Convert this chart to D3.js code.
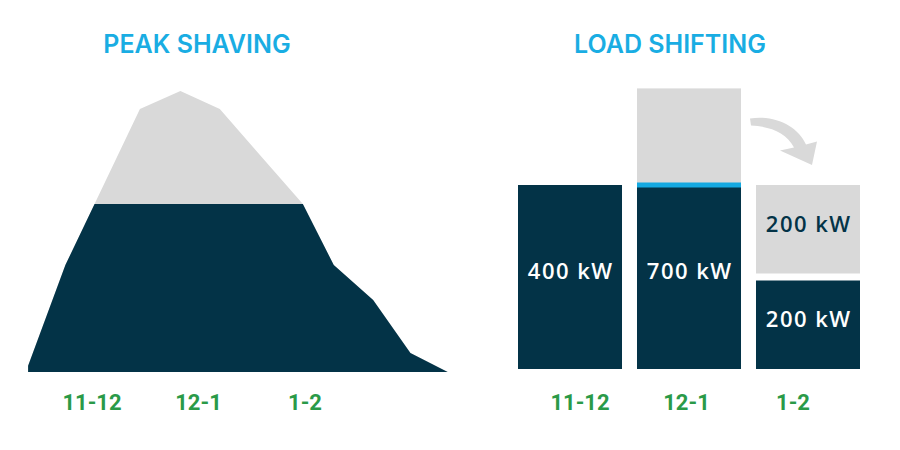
<!DOCTYPE html>
<html>
<head>
<meta charset="utf-8">
<script src="https://cdn.jsdelivr.net/npm/d3@7/dist/d3.min.js"></script>
<style>
  html, body { margin: 0; padding: 0; background: #fff; }
  svg { display: block; }
</style>
</head>
<body>
<svg id="chart" width="900" height="450"></svg>
<script>
// ---------- DATA ----------
// Peak shaving: load curve (hour of day, kW) and the shaving cap
const peakHours = [10.9, 11.25, 11.95, 12.33, 12.7, 13.48, 13.77, 14.14, 14.49, 14.84];
const peakLoad  = [22, 382, 939, 1004, 939, 600, 382, 257, 68, 0];
const peakCap   = 600;
const timeLabels = ["11-12", "12-1", "1-2"];
const timeLabelHours = [11.5, 12.5, 13.5];

// Load shifting: stacked bars
const shiftCategories = ["11-12", "12-1", "1-2"];
const baseLoad   = [400, 400, 200];   // dark part
const shiftedTop = [0, 210, 200];     // light part above
const baseLabels = ["400 kW", "700 kW", "200 kW"];
const topLabels  = ["", "", "200 kW"];

const titles = ["PEAK SHAVING", "LOAD SHIFTING"];

// ---------- STYLE ----------
const NAVY = "#033347", GREY = "#d9d9d9", CYAN = "#14a9e1", GREEN = "#2a9a48";

const svg = d3.select("#chart");

// ---------- LEFT: PEAK SHAVING ----------
const xL = d3.scaleLinear().domain([11.5, 13.5]).range([92, 305]);
const yL = d3.scaleLinear().domain([0, 1000]).range([372, 92]);
const pts = peakHours.map((h, i) => ({h, v: peakLoad[i]}));
const area = d3.area().x(d => xL(d.h)).y0(yL(0)).y1(d => yL(d.v));

svg.append("defs").append("clipPath").attr("id", "capClip")
  .append("rect")
  .attr("x", 0).attr("width", 460)
  .attr("y", yL(peakCap)).attr("height", yL(0) - yL(peakCap) + 1);

svg.append("path").datum(pts).attr("d", area).attr("fill", GREY);
svg.append("path").datum(pts).attr("d", area).attr("fill", NAVY)
  .attr("clip-path", "url(#capClip)");

svg.append("g").selectAll("text").data(timeLabels).join("text")
  .attr("x", (d, i) => xL(timeLabelHours[i]))
  .attr("y", 410)
  .attr("text-anchor", "middle")
  .attr("font-family", "Roboto, sans-serif")
  .attr("font-weight", 700)
  .attr("font-size", 22)
  .attr("fill", GREEN)
  .text(d => d);

svg.append("text")
  .attr("x", 197).attr("y", 53)
  .attr("text-anchor", "middle")
  .attr("font-family", "Inter, sans-serif")
  .attr("font-weight", 600)
  .attr("font-size", 25)
  .attr("fill", "#19ade3")
  .text(titles[0]);

// ---------- RIGHT: LOAD SHIFTING ----------
const xR = d3.scaleBand().domain(shiftCategories).range([518, 860])
  .paddingInner(0.126).paddingOuter(0);
const yR = d3.scaleLinear().domain([0, 400]).range([369, 185]);
const bw = xR.bandwidth();
const gap = 3.5;

const bars = shiftCategories.map((c, i) => ({
  c, base: baseLoad[i], top: shiftedTop[i], bl: baseLabels[i], tl: topLabels[i],
  stackedGap: baseLoad[i] < 400 && shiftedTop[i] > 0
}));

// light tops
svg.append("g").selectAll("rect").data(bars.filter(d => d.top > 0)).join("rect")
  .attr("x", d => xR(d.c)).attr("width", bw)
  .attr("y", d => yR(d.base + d.top))
  .attr("height", d => yR(d.base) - yR(d.base + d.top) - (d.stackedGap ? gap : 0))
  .attr("fill", GREY);

// dark bases
svg.append("g").selectAll("rect").data(bars).join("rect")
  .attr("x", d => xR(d.c)).attr("width", bw)
  .attr("y", d => yR(d.base) + (d.stackedGap ? gap : 0))
  .attr("height", d => yR(0) - yR(d.base) - (d.stackedGap ? gap : 0))
  .attr("fill", NAVY);

// cyan cap line on shaved bar
svg.append("g").selectAll("rect").data(bars.filter(d => d.top > 0 && !d.stackedGap)).join("rect")
  .attr("x", d => xR(d.c)).attr("width", bw)
  .attr("y", d => yR(d.base) - 2.5).attr("height", 5)
  .attr("fill", CYAN);

// value labels
const labFont = {family: "'Open Sans', sans-serif", weight: 600, size: 22, ls: 1.5};
svg.append("g").selectAll("text").data(bars).join("text")
  .attr("x", d => xR(d.c) + bw / 2 + labFont.ls / 2)
  .attr("y", d => (yR(d.base) + (d.stackedGap ? gap : 0) + yR(0)) / 2 + 2)
  .attr("text-anchor", "middle")
  .attr("font-family", labFont.family).attr("font-weight", labFont.weight)
  .attr("font-size", labFont.size).attr("letter-spacing", labFont.ls)
  .attr("fill", "#fff")
  .text(d => d.bl);

svg.append("g").selectAll("text").data(bars.filter(d => d.tl)).join("text")
  .attr("x", d => xR(d.c) + bw / 2 + labFont.ls / 2)
  .attr("y", d => (yR(d.base + d.top) + yR(d.base) - gap) / 2 + 3)
  .attr("text-anchor", "middle")
  .attr("font-family", labFont.family).attr("font-weight", labFont.weight)
  .attr("font-size", labFont.size).attr("letter-spacing", labFont.ls)
  .attr("fill", NAVY)
  .text(d => d.tl);

// category labels
const xLab = d3.scalePoint().domain(shiftCategories).range([580, 793]);
svg.append("g").selectAll("text").data(shiftCategories).join("text")
  .attr("x", d => xLab(d))
  .attr("y", 410)
  .attr("text-anchor", "middle")
  .attr("font-family", "Roboto, sans-serif")
  .attr("font-weight", 700)
  .attr("font-size", 22)
  .attr("fill", GREEN)
  .text(d => d);

svg.append("text")
  .attr("x", 670).attr("y", 53)
  .attr("text-anchor", "middle")
  .attr("font-family", "Inter, sans-serif")
  .attr("font-weight", 600)
  .attr("font-size", 25)
  .attr("fill", "#19ade3")
  .text(titles[1]);

// curved arrow from shaved peak to later slot
const ax0 = xR("12-1") + bw + 9, ay0 = yR(610) + 33;
const tipX = xR("1-2") + bw / 2 + 4, tipY = yR(400) - 20;
const arrow = d3.path();
arrow.moveTo(ax0, ay0 - 3);
arrow.bezierCurveTo(ax0 + 25, ay0 - 7, ax0 + 48, ay0 + 5, ax0 + 56, ay0 + 23);
arrow.lineTo(ax0 + 67, ay0 + 20);
arrow.lineTo(tipX, tipY);
arrow.lineTo(ax0 + 30, ay0 + 29);
arrow.lineTo(ax0 + 44, ay0 + 26);
arrow.bezierCurveTo(ax0 + 36, ay0 + 11, ax0 + 20, ay0 + 5, ax0 + 1, ay0 + 4);
arrow.closePath();
svg.append("path").attr("d", arrow.toString()).attr("fill", GREY);
</script>
</body>
</html>
